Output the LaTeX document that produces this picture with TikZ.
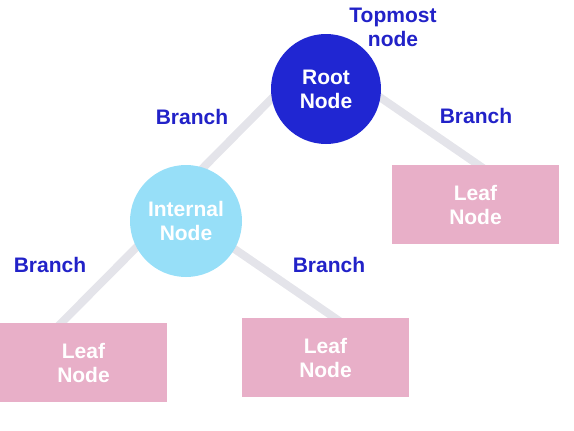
\documentclass[tikz,border=0pt]{standalone}
\usepackage{fontspec}
\setmainfont{Liberation Sans}
\usetikzlibrary{backgrounds, calc}
\definecolor{rootblue}{HTML}{2026D2}
\definecolor{innerblue}{HTML}{97DFF8}
\definecolor{leafpink}{HTML}{E8AFC8}
\definecolor{branchgray}{HTML}{E4E4EA}
\definecolor{labelblue}{HTML}{2222C8}

\begin{document}
\begin{tikzpicture}[
  x=1pt, y=-1pt,
  every node/.style={font=\fontsize{21}{24}\selectfont\bfseries, align=center},
  treecircle/.style={circle, inner sep=0pt, text=white},
  leafbox/.style={rectangle, fill=leafpink, text=white,
    minimum width=167pt, minimum height=79pt, inner sep=0pt},
  branchline/.style={branchgray, line width=8pt,
    shorten <=-6pt, shorten >=-6pt},
  tag/.style={text=labelblue},
  ]
  \useasboundingbox (0,0) rectangle (574,431);

  % 根结点与内部结点
  \node[treecircle, fill=rootblue, minimum size=110pt] (root) at (326,89) {Root\\Node};
  \node[treecircle, fill=innerblue, minimum size=112pt] (internal) at (186,221) {Internal\\Node};

  % 叶结点
  \node[leafbox] (leafR) at (475.5,204.5) {Leaf\\Node};
  \node[leafbox] (leafL) at (83.5,362.5) {Leaf\\Node};
  \node[leafbox] (leafM) at (325.5,357.5) {Leaf\\Node};

  % 分支连线(放在背景层)
  \begin{scope}[on background layer]
    \draw[branchline] (root.190) -- (internal.72);
    \draw[branchline] (root.-9) -- (leafR.86);
    \draw[branchline] (internal.208) -- (leafL.119);
    \draw[branchline] (internal.-30) -- (leafM.77);
  \end{scope}

  % 标注文字
  \node[tag] (topmost) at (393,27) {Topmost\\node};
  \foreach \i/\px/\py in {1/192/117, 2/476/116, 3/50/265, 4/329/265}
    \node[tag] (branch\i) at (\px,\py) {Branch};
\end{tikzpicture}
\end{document}
